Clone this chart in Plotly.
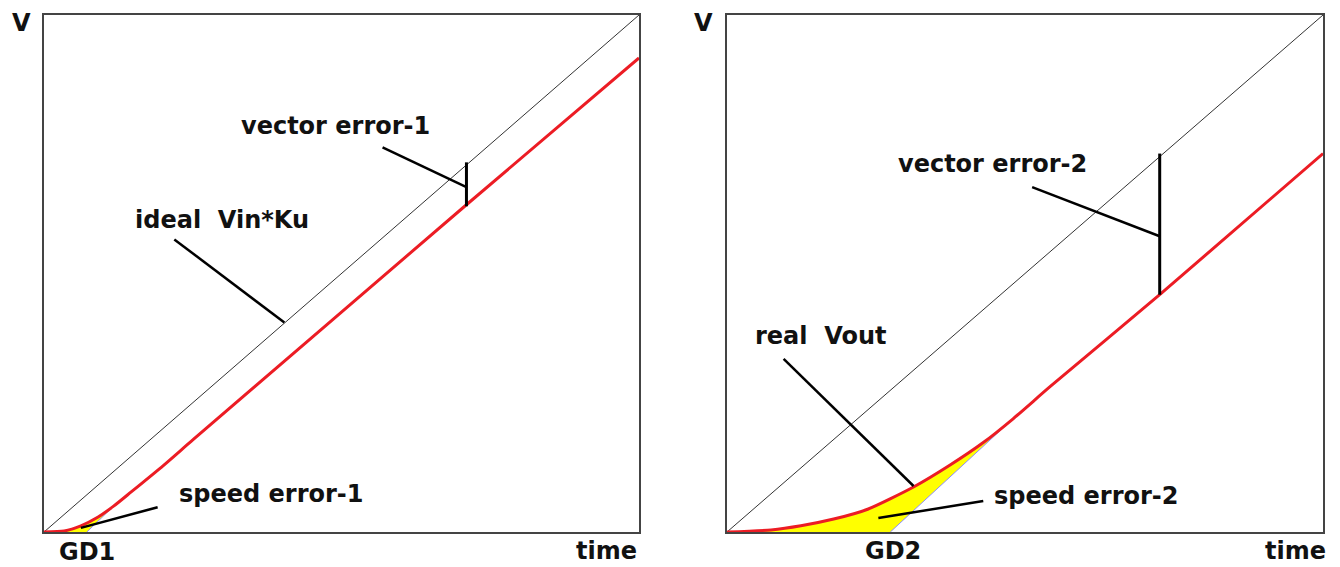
import plotly.graph_objects as go

# ---------------- data (time / V in 0..100 units per panel) ----------------
ideal_t = [0, 100]
ideal_v = [0, 100]

# left panel: real output with small delay (GD1)
real1_t = [0, 3.4, 6.2, 9.1, 11.7, 14.6, 20.1, 25.1, 70.9, 100]
real1_v = [0, 0.2, 1.2, 2.9, 5.0, 7.7, 12.9, 17.9, 63.2, 91.7]
gd1 = 7.2
asym1_t = [gd1, 11.7]
asym1_v = [0, 5.0]

# right panel: real output with large delay (GD2)
real2_t = [0, 7.4, 12.4, 17.9, 23.6, 31.3, 37.5, 43.0, 48.0, 54.2, 72.6, 100]
real2_v = [0, 0.4, 1.2, 2.5, 4.4, 8.7, 13.0, 17.3, 21.9, 28.1, 45.9, 73.2]
gd2 = 27.4
asym2_t = [gd2, 48.0]
asym2_v = [0, 21.9]

# pointer lines of the annotations (label leader lines, error bars)
vec1_ptr_t, vec1_ptr_v = [56.9, 71.0], [74.4, 66.7]
vec1_bar_t, vec1_bar_v = [71.0, 71.0], [71.5, 63.0]
ideal_ptr_t, ideal_ptr_v = [21.9, 40.4], [56.6, 40.5]
spd1_ptr_t, spd1_ptr_v = [19.1, 6.2], [4.8, 0.8]

vec2_ptr_t, vec2_ptr_v = [51.2, 72.6], [66.7, 57.2]
vec2_bar_t, vec2_bar_v = [72.6, 72.6], [73.2, 45.9]
real_ptr_t, real_ptr_v = [9.5, 31.3], [33.5, 8.9]
spd2_ptr_t, spd2_ptr_v = [43.0, 25.4], [6.0, 2.7]

RED = "#ec1c24"
YEL = "#ffff00"
BLUE = "#8c8cff"
GRID = "#333333"
TXT = "#111111"
FONT = "DejaVu Sans"

# page body has an 8px margin -> figure is 8px smaller and shifted
W, H = 1332, 559
OFF = 8

fig = go.Figure()


def yellow_poly(rt, rv, at, av):
    # red curve up to merge point, then back down the delayed-ideal line
    px = [t for t in rt if t <= at[-1]]
    py = rv[:len(px)]
    xs = px + [at[-1], at[0], rt[0]]
    ys = py + [av[-1], av[0], rv[0]]
    return xs, ys


for (xa, ya, rt, rv, at, av) in [
    ("x", "y", real1_t, real1_v, asym1_t, asym1_v),
    ("x2", "y2", real2_t, real2_v, asym2_t, asym2_v),
]:
    xs, ys = yellow_poly(rt, rv, at, av)
    fig.add_trace(go.Scatter(x=xs, y=ys, fill="toself", fillcolor=YEL, mode="lines",
                             line=dict(width=0, color=YEL), xaxis=xa, yaxis=ya,
                             hoverinfo="skip", showlegend=False, cliponaxis=False))
    fig.add_trace(go.Scatter(x=at, y=av, mode="lines", line=dict(color=BLUE, width=1),
                             xaxis=xa, yaxis=ya, showlegend=False))
    fig.add_trace(go.Scatter(x=ideal_t, y=ideal_v, mode="lines",
                             line=dict(color=GRID, width=1), xaxis=xa, yaxis=ya,
                             showlegend=False, cliponaxis=False))
    fig.add_trace(go.Scatter(x=rt, y=rv, mode="lines",
                             line=dict(color=RED, width=3, shape="spline", smoothing=0.6),
                             xaxis=xa, yaxis=ya, showlegend=False, cliponaxis=False))

ptrs = [
    ("x", "y", vec1_ptr_t, vec1_ptr_v, 2.5),
    ("x", "y", vec1_bar_t, vec1_bar_v, 3),
    ("x", "y", ideal_ptr_t, ideal_ptr_v, 2.5),
    ("x", "y", spd1_ptr_t, spd1_ptr_v, 2.5),
    ("x2", "y2", vec2_ptr_t, vec2_ptr_v, 2.5),
    ("x2", "y2", vec2_bar_t, vec2_bar_v, 3),
    ("x2", "y2", real_ptr_t, real_ptr_v, 2.5),
    ("x2", "y2", spd2_ptr_t, spd2_ptr_v, 2.5),
]
for xa, ya, t, v, w in ptrs:
    fig.add_trace(go.Scatter(x=t, y=v, mode="lines", line=dict(color="black", width=w),
                             xaxis=xa, yaxis=ya, showlegend=False))

font = dict(family=FONT, size=24, color=TXT, weight="bold")

# labels inside the panels (data coordinates)
inner_labels = [
    ("vector error-1", "x", "y", 32.7, 78.6),
    ("ideal \u00a0Vin*Ku", "x", "y", 14.9, 60.3),
    ("speed error-1", "x", "y", 22.4, 7.3),
    ("vector error-2", "x2", "y2", 28.3, 71.1),
    ("real \u00a0Vout", "x2", "y2", 4.35, 38.0),
    ("speed error-2", "x2", "y2", 44.5, 6.9),
]
# labels outside the panels (page pixel centres)
outer_labels = [
    ("GD1", 87, 552),
    ("time", 606, 551),
    ("V", 21, 23),
    ("GD2", 893, 551),
    ("time", 1295, 551),
    ("V", 703, 23),
]
annotations = []
for text, xr, yr, x, y in inner_labels:
    annotations.append(dict(text=text, xref=xr, yref=yr, x=x, y=y, xanchor="left",
                            yanchor="middle", showarrow=False, font=font))
for text, px, py in outer_labels:
    annotations.append(dict(text=text, xref="paper", yref="paper",
                            x=(px - OFF) / W, y=(H - (py - OFF)) / H,
                            xanchor="center", yanchor="middle", showarrow=False, font=font))

axis_common = dict(range=[0, 100], showgrid=False, zeroline=False, showticklabels=False,
                   ticks="", showline=True, mirror=True, linecolor="#444444", linewidth=2,
                   fixedrange=True)


def xdom(a, b):
    return [(a + 1 - OFF) / W, (b - 1 - OFF) / W]


def ydom(top, bot):
    return [(H - (bot - 1 - OFF)) / H, (H - (top + 1 - OFF)) / H]


fig.update_layout(
    width=W, height=H,
    margin=dict(l=0, r=0, t=0, b=0),
    paper_bgcolor="white", plot_bgcolor="white",
    showlegend=False,
    xaxis=dict(domain=xdom(43, 640), anchor="y", **axis_common),
    yaxis=dict(domain=ydom(14, 533), anchor="x", **axis_common),
    xaxis2=dict(domain=xdom(726, 1324), anchor="y2", **axis_common),
    yaxis2=dict(domain=ydom(14, 533), anchor="x2", **axis_common),
    annotations=annotations,
)

fig.write_html("out.html")
